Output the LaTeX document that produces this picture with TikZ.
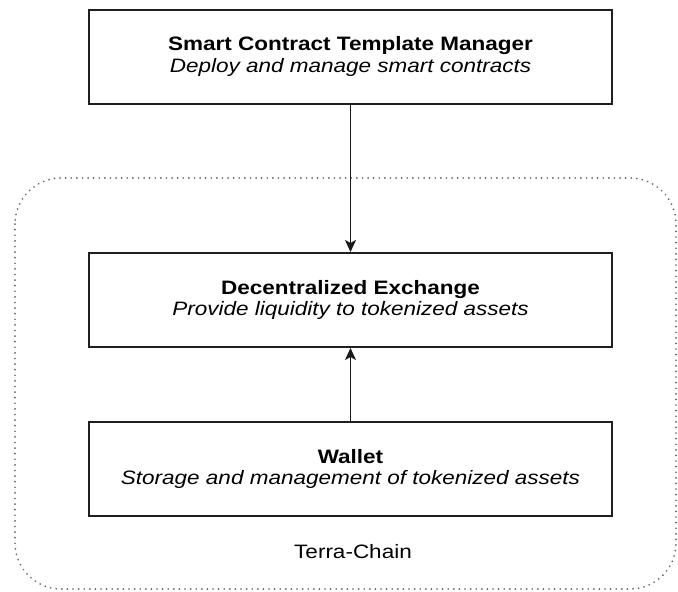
\documentclass[tikz,border=0pt]{standalone}
\usepackage{fontspec}
\setmainfont{Liberation Sans}
\newfontfamily\labelfont[FakeStretch=1.16]{Liberation Sans}
\usetikzlibrary{arrows.meta}

\tikzset{
  compbox/.style={draw=black!88, line width=2pt, fill=white,
    minimum width=523pt, minimum height=94pt, inner sep=0pt,
    align=center, font=\labelfont\fontsize{19.4}{21.5}\selectfont},
  flow/.style={draw=black!90, line width=1.7pt,
    -{Stealth[length=12pt, width=11pt, inset=3pt]}},
  region/.style={draw=black!62, line width=1.8pt, line cap=round,
    dash pattern=on 0.1pt off 5.5pt, rounded corners=46pt}
}

\begin{document}
\begin{tikzpicture}[x=1pt, y=-1pt]
  \useasboundingbox (0,0) rectangle (678,592);

  % Terra-Chain boundary
  \draw[region] (15,178) rectangle (676,589);
  \node[font=\labelfont\fontsize{19.4}{21.5}\selectfont] (chain) at (353,552) {Terra-Chain};

  % Components
  \node[compbox] (manager) at (350.5,56.5)
    {\textbf{Smart Contract Template Manager}\\\textit{Deploy and manage smart contracts}};
  \node[compbox] (dex) at (350.5,300)
    {\textbf{Decentralized Exchange}\\\textit{Provide liquidity to tokenized assets}};
  \node[compbox] (wallet) at (350.5,469)
    {\textbf{Wallet}\\\textit{Storage and management of tokenized assets}};

  % Connections
  \draw[flow] (manager.south) -- (dex.north);
  \draw[flow] (wallet.north) -- (dex.south);
\end{tikzpicture}
\end{document}
